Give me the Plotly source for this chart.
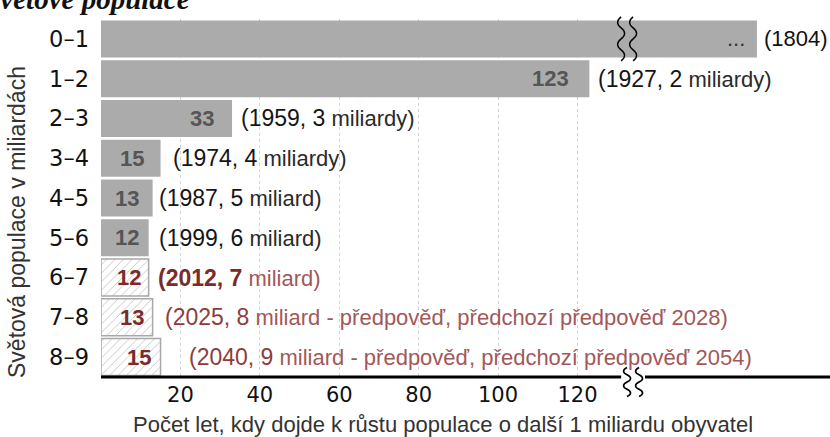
import plotly.graph_objects as go

# ---------------- data ----------------
ranges = ["0–1", "1–2", "2–3", "3–4", "4–5", "5–6", "6–7", "7–8", "8–9"]
years_to_next = [None, 123, 33, 15, 13, 12, 12, 13, 15]   # None = off the chart (broken bar)
milestone_year = [1804, 1927, 1959, 1974, 1987, 1999, 2012, 2025, 2040]
milestone_billion = [1, 2, 3, 4, 5, 6, 7, 8, 9]
unit_word = ["", "miliardy", "miliardy", "miliardy", "miliard", "miliard", "miliard",
             "miliard - předpověď, předchozí předpověď 2028",
             "miliard - předpověď, předchozí předpověď 2054"]
status = ["hist"] * 6 + ["current", "forecast", "forecast"]
x_ticks = [20, 40, 60, 80, 100, 120]

AXIS_BREAK = 134.0        # axis-break position (axis units)
BROKEN_BAR_END = 165.2    # drawn end of the truncated 0–1 bar
X_MAX = 183.6

# ---------------- styles ----------------
GRAY = "#ababab"
HATCH_LINE = "#a8a8a8"
SANS = "Liberation Sans, Arial, sans-serif"
TICKF = "DejaVu Sans, Verdana, sans-serif"
RED_DARK = "#7a2b2b"
RED = "#8e3c3c"
RED_LIGHT = "#a25858"

bar_len = [v if v is not None else BROKEN_BAR_END for v in years_to_next]
is_hist = [s == "hist" for s in status]

fig = go.Figure(go.Bar(
    y=ranges, x=bar_len, orientation="h",
    marker=dict(
        color=[GRAY if h else "#b4b4b4" for h in is_hist],
        line=dict(color=[GRAY if h else HATCH_LINE for h in is_hist],
                  width=[0 if h else 1.5 for h in is_hist]),
        pattern=dict(shape=["" if h else "/" for h in is_hist],
                     bgcolor="white", fgcolor="#b9b9b9", size=6, solidity=0.12,
                     fillmode="replace"),
    ),
    hoverinfo="skip",
))

# plot-area geometry (px) used for paper conversions
L, T, B = 101, 19, 60
W, H = 830, 437
PW, PH = W - L, H - T - B


def px_x(p):
    return (p - L) / PW


def px_y(p):
    return (H - B - p) / PH


n = len(ranges)
row_center = [1 - (i + 0.5) / n for i in range(n)]

annotations = []
inside_pad = [10, 18, 16, 15, 12, 8, 6, 7, 8]
outside_gap = [5, 7, 7, 10, 4, 8, 7, 10, 26]
for i in range(n):
    # value inside bar
    if years_to_next[i] is None:
        itxt = "..."
        icol = "#333333"
        iweight = "normal"
    else:
        itxt = str(years_to_next[i])
        icol = "#555555" if is_hist[i] else RED_DARK
        iweight = "bold"
    annotations.append(dict(
        x=bar_len[i], y=ranges[i], xref="x", yref="y", xanchor="right", yanchor="middle",
        xshift=-inside_pad[i], text=itxt, showarrow=False,
        font=dict(family=SANS, size=22, color=icol, weight=iweight)))
    # label outside
    if unit_word[i] == "":
        otxt = f"<span style='color:#111111;font-size:22px'>({milestone_year[i]})</span>"
    else:
        head = f"({milestone_year[i]}, {milestone_billion[i]}"
        if status[i] == "hist":
            otxt = (f"<span style='color:#151515'>{head}</span>"
                    f"<span style='color:#2a2a2a;font-size:22px'> {unit_word[i]})</span>")
        elif status[i] == "current":
            otxt = (f"<span style='color:{RED_DARK}'><b>{head}</b></span>"
                    f"<span style='color:{RED_LIGHT};font-size:22px'> {unit_word[i]})</span>")
        else:
            otxt = (f"<span style='color:{RED}'>{head}</span>"
                    f"<span style='color:{RED_LIGHT};font-size:22px'> {unit_word[i]})</span>")
    annotations.append(dict(
        x=bar_len[i], y=ranges[i], xref="x", yref="y", xanchor="left", yanchor="middle",
        xshift=outside_gap[i], text=otxt, showarrow=False,
        font=dict(family=SANS, size=23, color="#111111")))

# axis titles
annotations.append(dict(
    x=px_x(443), y=px_y(424), xref="paper", yref="paper", xanchor="center", yanchor="middle",
    text="Počet let, kdy dojde k růstu populace o další 1 miliardu obyvatel", showarrow=False,
    font=dict(family=SANS, size=22, color="#333333")))
annotations.append(dict(
    x=px_x(17), y=px_y(222), xref="paper", yref="paper", xanchor="center", yanchor="middle",
    text="Světová populace v miliardách", textangle=-90, showarrow=False,
    font=dict(family=SANS, size=23, color="#333333")))
# title, clipped by the top edge as in the source image
annotations.append(dict(
    x=px_x(192), y=px_y(17), xref="paper", yref="paper", xanchor="right", yanchor="bottom",
    text="<b><i>Růst světové populace</i></b>", showarrow=False,
    font=dict(family="Liberation Serif, serif", size=29, color="#111111")))


def squiggle(cx, h, a):
    """vertical wavy line centred at pixel offset cx, height h, amplitude a"""
    y0 = -h / 2
    q = h / 4
    d = f"M{cx},{y0}"
    for k in range(4):
        sgn = 1 if k % 2 == 0 else -1
        cy = y0 + q * k + q / 2
        ey = y0 + q * (k + 1)
        d += f" Q{cx + sgn * 2 * a},{cy} {cx},{ey}"
    return d


shapes = []
# x axis line with a break
shapes.append(dict(type="line", xref="x", yref="paper", x0=0, x1=AXIS_BREAK - 3.0,
                   y0=0, y1=0, line=dict(color="black", width=3)))
shapes.append(dict(type="line", xref="x", yref="paper", x0=AXIS_BREAK + 3.0, x1=X_MAX,
                   y0=0, y1=0, line=dict(color="black", width=3)))
for off in (-6, 6):
    # break marks on the axis
    shapes.append(dict(type="path", xref="x", yref="paper", xsizemode="pixel", ysizemode="pixel",
                       xanchor=AXIS_BREAK, yanchor=px_y(382),
                       path=squiggle(off, 29, 3.5), line=dict(color="black", width=1.6)))
    # break marks on the 0–1 bar
    shapes.append(dict(type="path", xref="x", yref="paper", xsizemode="pixel", ysizemode="pixel",
                       xanchor=AXIS_BREAK - 1.5, yanchor=row_center[0],
                       path=squiggle(off, 44, 3.5), line=dict(color="black", width=1.4)))

fig.update_layout(
    width=W, height=H,
    margin=dict(l=L, r=0, t=T, b=B),
    plot_bgcolor="white", paper_bgcolor="white",
    bargap=0.07,
    showlegend=False,
    xaxis=dict(range=[0, X_MAX], tickvals=x_ticks, ticktext=[str(t) for t in x_ticks],
               showgrid=True, gridcolor="#d2d2d2", griddash="dot", gridwidth=1,
               zeroline=False, showline=False, ticks="",
               tickfont=dict(family=TICKF, size=21, color="#111111"),
               ticklabelstandoff=3, fixedrange=True),
    yaxis=dict(autorange="reversed", showgrid=False, zeroline=False, showline=False, ticks="",
               tickfont=dict(family=TICKF, size=22.5, color="#111111"),
               ticklabelstandoff=11, fixedrange=True),
    annotations=annotations,
    shapes=shapes,
)

fig.write_html("out.html", config={"displayModeBar": False},
               post_script="document.body.style.margin='0px';document.body.style.overflow='hidden';")
